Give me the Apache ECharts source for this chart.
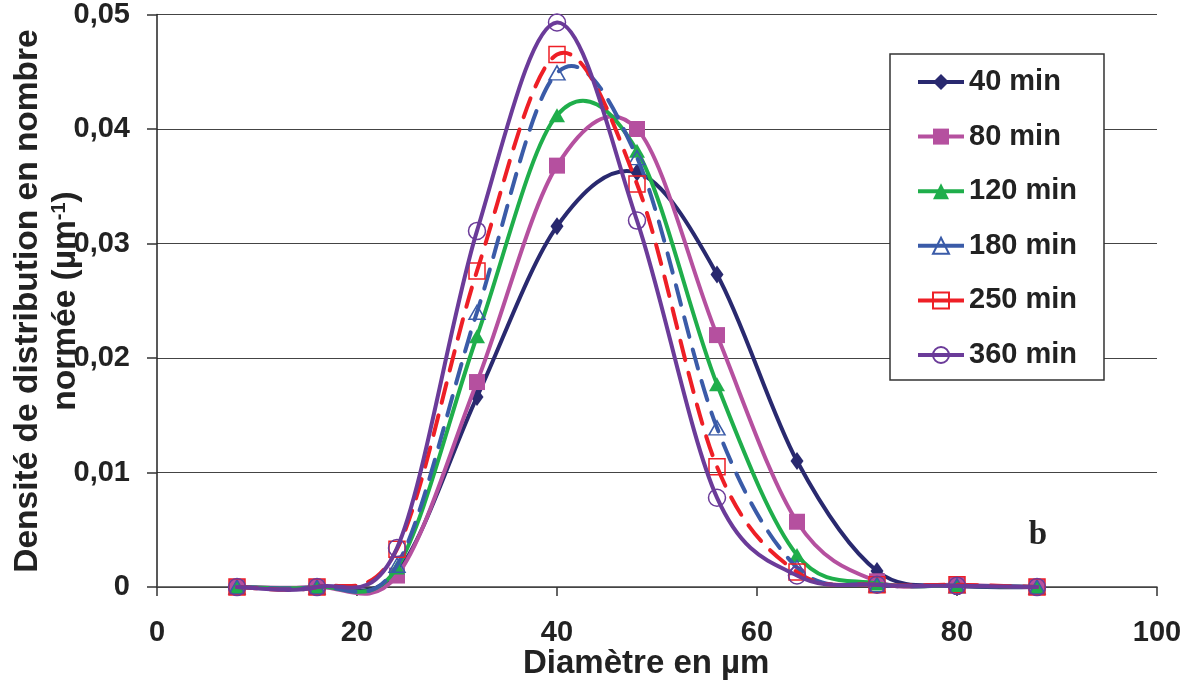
<!DOCTYPE html>
<html><head><meta charset="utf-8">
<script src="https://cdn.jsdelivr.net/npm/echarts@6/dist/echarts.min.js"></script>
<style>html,body{margin:0;padding:0;background:#fff}#c{width:1192px;height:690px}</style>
</head><body><div id="c"></div>
<script>
// ---- data ----
const diameters = [8, 16, 24, 32, 40, 48, 56, 64, 72, 80, 88];
const min40  = [0, 0, 0.0013, 0.0166, 0.0315, 0.0362, 0.0273, 0.0110, 0.0014, 0.0001, 0];
const min80  = [0, 0, 0.0010, 0.0179, 0.0368, 0.0400, 0.0220, 0.0057, 0.0005, 0.0002, 0];
const min120 = [0, 0, 0.0017, 0.0219, 0.0412, 0.0381, 0.0177, 0.0028, 0.0003, 0.0001, 0];
const min180 = [0, 0, 0.0019, 0.0240, 0.0449, 0.0375, 0.0139, 0.0017, 0.0002, 0.0001, 0];
const min250 = [0, 0, 0.0033, 0.0276, 0.0465, 0.0352, 0.0105, 0.0013, 0.0002, 0.0002, 0];
const min360 = [0, 0, 0.0034, 0.0311, 0.0493, 0.0320, 0.0078, 0.0010, 0.0002, 0.0001, 0];
const seriesNames = ['40 min', '80 min', '120 min', '180 min', '250 min', '360 min'];
const seriesValues = [min40, min80, min120, min180, min250, min360];
const xTicks = [0, 20, 40, 60, 80, 100];
const yTicks = [0, 0.01, 0.02, 0.03, 0.04, 0.05];

// ---- styles ----
const colors = ['#29296f', '#b5509f', '#1fae4b', '#3a5ba8', '#ee1f26', '#6b3b99'];
const symbols = ['diamond', 'rect', 'triangle', 'triangle', 'rect', 'circle'];
const symbolSizes = [[13, 18], 16, [16, 14], [16, 14], 16, 17];
const hollow = [false, false, false, true, true, true];
const dashed = [false, false, false, true, true, false];
const FONT = '"Liberation Sans", Arial, sans-serif';
const TXT = '#222';

const chart = echarts.init(document.getElementById('c'), null, {renderer: 'canvas'});

// Smoothed (Catmull-Rom style, like a spreadsheet "smoothed line") curve drawn through the axis scales
function smoothCurve(i) {
  return {
    name: '_curve' + i,
    type: 'custom',
    clip: false,
    silent: true,
    z: 2 + 2 * i,
    data: diameters.map((d, k) => [d, seriesValues[i][k]]),
    renderItem: (params, api) => {
      if (params.dataIndex !== 0) return null;
      const p = diameters.map((d, k) => api.coord([d, seriesValues[i][k]]));
      const n = p.length;
      let path = 'M' + p[0][0] + ' ' + p[0][1];
      for (let k = 0; k < n - 1; k++) {
        const p0 = p[Math.max(0, k - 1)], p1 = p[k], p2 = p[k + 1], p3 = p[Math.min(n - 1, k + 2)];
        const c1x = p1[0] + (p2[0] - p0[0]) / 6, c1y = p1[1] + (p2[1] - p0[1]) / 6;
        const c2x = p2[0] - (p3[0] - p1[0]) / 6, c2y = p2[1] - (p3[1] - p1[1]) / 6;
        path += ' C' + c1x + ' ' + c1y + ' ' + c2x + ' ' + c2y + ' ' + p2[0] + ' ' + p2[1];
      }
      return {
        type: 'path',
        shape: {pathData: path},
        style: {
          fill: 'none', stroke: colors[i], lineWidth: 4, lineCap: 'round', lineJoin: 'round',
          lineDash: dashed[i] ? [20, 13] : null
        }
      };
    }
  };
}

const markerSeries = seriesNames.map((name, i) => ({
  name,
  type: 'line',
  data: diameters.map((d, k) => [d, seriesValues[i][k]]),
  symbol: symbols[i],
  symbolSize: symbolSizes[i],
  showAllSymbol: true,
  clip: false,
  lineStyle: {color: colors[i], width: 4, opacity: 0},
  itemStyle: hollow[i]
    ? {color: 'rgba(255,255,255,0)', borderColor: colors[i], borderWidth: 1.5}
    : {color: colors[i], borderWidth: 0},
  emphasis: {disabled: true},
  silent: true,
  z: 3 + 2 * i
}));

const series = [];
seriesNames.forEach((n, i) => { series.push(smoothCurve(i)); series.push(markerSeries[i]); });

chart.setOption({
  animation: false,
  backgroundColor: '#fff',
  grid: {left: 157, right: 35, top: 13, bottom: 103, containLabel: false},
  xAxis: {
    type: 'value', min: 0, max: 100, interval: 20,
    axisLine: {show: true, lineStyle: {color: '#444', width: 1.5}},
    axisTick: {show: true, length: 9, lineStyle: {color: '#333', width: 1.5}},
    axisLabel: {
      margin: 31, fontFamily: FONT, fontWeight: 'bold', fontSize: 29, color: TXT,
      formatter: v => xTicks.includes(v) ? String(v) : ''
    },
    splitLine: {show: false}
  },
  yAxis: {
    type: 'value', min: 0, max: 0.05, interval: 0.01,
    axisLine: {show: true, lineStyle: {color: '#222', width: 1.5}},
    axisTick: {show: true, length: 10, lineStyle: {color: '#333', width: 1.5}},
    axisLabel: {
      margin: 27, fontFamily: FONT, fontWeight: 'bold', fontSize: 29, color: TXT,
      formatter: v => {
        const t = yTicks.find(y => Math.abs(y - v) < 1e-9);
        if (t === undefined) return '';
        return t === 0 ? '0' : t.toFixed(2).replace('.', ',');
      }
    },
    splitLine: {show: true, lineStyle: {color: '#444', width: 1.2}}
  },
  legend: {
    orient: 'vertical',
    left: 890, top: 54,
    padding: [13, 27, 10, 26],
    itemGap: 24.6,
    itemWidth: 46, itemHeight: 20,
    backgroundColor: '#fff',
    borderColor: '#333', borderWidth: 1.5,
    lineStyle: {type: 'solid', width: 4, opacity: 1},
    textStyle: {fontFamily: FONT, fontWeight: 'bold', fontSize: 29, color: TXT, lineHeight: 30},
    data: seriesNames,
    selectedMode: false,
    z: 20
  },
  graphic: [
    {
      type: 'text', left: 523, top: 647,
      style: {text: 'Diamètre en µm', font: 'bold 33px ' + FONT, fill: TXT}
    },
    {
      type: 'text', x: 47, y: 301, rotation: Math.PI / 2,
      style: {
        text: '{a|Densité de distribution en nombre}\n{a|normée (µm}{s|-1}{a|)}',
        align: 'center', verticalAlign: 'middle',
        rich: {
          a: {font: 'bold 33.5px ' + FONT, fill: TXT, lineHeight: 38},
          s: {font: 'bold 20px ' + FONT, fill: TXT, lineHeight: 38, padding: [0, 0, 14, 0]}
        }
      }
    },
    {
      type: 'text', x: 1038, y: 535,
      style: {text: 'b', font: 'bold 33px "Liberation Serif", "Times New Roman", serif', fill: TXT,
              align: 'center', verticalAlign: 'middle'}
    }
  ],
  series
});
</script></body></html>
